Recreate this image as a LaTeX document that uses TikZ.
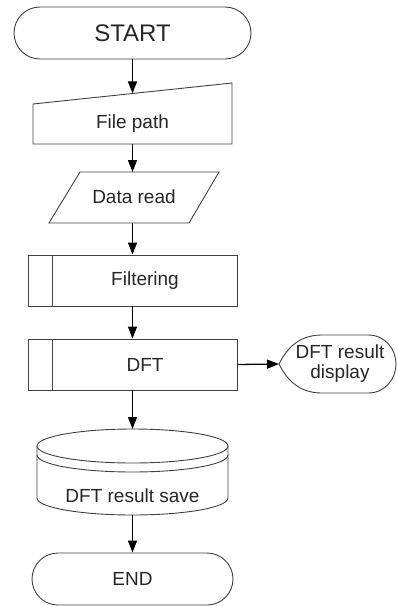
\documentclass[tikz,border=0pt]{standalone}
\usepackage{fontspec}
\setmainfont{Liberation Sans}
\usetikzlibrary{arrows.meta}
\begin{document}
\begin{tikzpicture}[x=1pt,y=-1pt,
  shapeline/.style={draw=black!75, line width=0.9pt},
  flow/.style={draw=black, line width=1.3pt, -{Triangle[length=12pt,width=9pt]}},
  lbl/.style={font=\fontsize{19}{22}\selectfont, text=black!85, align=center, inner sep=0pt},
  term/.style={shapeline, rounded corners=26pt, minimum height=52pt, font=\fontsize{19}{22}\selectfont, text=black!85},
  proc/.style={shapeline, minimum width=209pt, minimum height=51pt, font=\fontsize{19}{22}\selectfont, text=black!85}]
\useasboundingbox (0,0) rectangle (397,606);

% START
\node[term, minimum width=237pt, font=\fontsize{24}{27}\selectfont] (start) at (132.5,33) {START};

% File path (manual input)
\draw[shapeline] (33,104) -- (232,83) -- (232,144) -- (33,144) -- cycle;
\node[lbl] (fp) at (132.5,124) {File path};
\coordinate (fptop) at (132.5,93.4);
\coordinate (fpbot) at (132.5,144);

% Data read (parallelogram)
\draw[shapeline] (80,172) -- (219,172) -- (189,223) -- (49,223) -- cycle;
\node[lbl] (dr) at (134,197) {Data read};
\coordinate (drtop) at (132.5,172);
\coordinate (drbot) at (132.5,223);

% Filtering
\node[proc] (filt) at (132.5,280.5) {\hspace*{25pt}Filtering};
\draw[shapeline] ([xshift=25pt]filt.north west) -- ([xshift=25pt]filt.south west);

% DFT
\node[proc] (dft) at (132.5,364.5) {\hspace*{25pt}DFT};
\draw[shapeline] ([xshift=25pt]dft.north west) -- ([xshift=25pt]dft.south west);

% Display
\draw[shapeline] (279,364) .. controls (290,342) and (305,335) .. (322,335) -- (368,335)
  .. controls (386,335) and (396,350) .. (396,364)
  .. controls (396,378) and (386,393) .. (368,393) -- (322,393)
  .. controls (305,393) and (290,386) .. (279,364) -- cycle;
\node[lbl, font=\fontsize{19}{20}\selectfont] (disp) at (340,364) {DFT result\\display};
\coordinate (displeft) at (279,364);

% Cylinder (stored data)
\draw[shapeline] (132.5,446) ellipse [x radius=95.5pt, y radius=17pt];
\draw[shapeline] (37,455) arc[start angle=180, end angle=360, x radius=95.5pt, y radius=17pt];
\draw[shapeline] (37,446) -- (37,498) arc[start angle=180, end angle=360, x radius=95.5pt, y radius=17pt] -- (228,446);
\node[lbl] (save) at (132.5,496) {DFT result save};
\coordinate (cyltop) at (132.5,429);
\coordinate (cylbot) at (132.5,515);

% END
\node[term, minimum width=201pt] (end) at (132.5,579) {END};

% connectors
\draw[flow] (start.south) -- (fptop);
\draw[flow] (fpbot) -- (drtop);
\draw[flow] (drbot) -- (filt.north);
\draw[flow] (filt.south) -- (dft.north);
\draw[flow] (dft.east) -- (displeft);
\draw[flow] (dft.south) -- (cyltop);
\draw[flow] (cylbot) -- (end.north);
\end{tikzpicture}
\end{document}
